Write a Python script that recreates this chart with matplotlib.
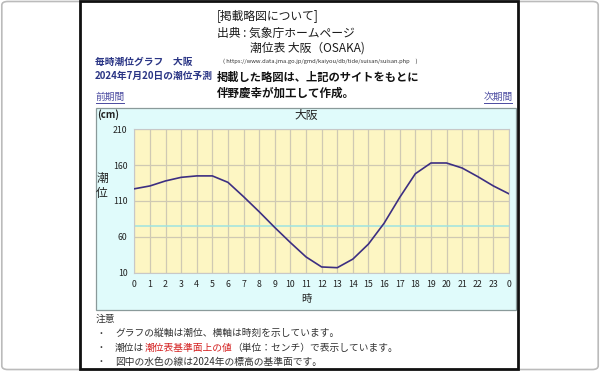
import matplotlib.pyplot as plt
from matplotlib.patches import Rectangle, FancyBboxPatch

plt.rcParams['font.family'] = ['Noto Sans CJK JP', 'DejaVu Sans']

# hourly tide level prediction, Osaka, 2024-07-20 (cm)
hours = list(range(25))
hour_labels = [str(h % 24) for h in hours]
tide_cm = [127, 131, 138, 143, 145, 145, 136, 116, 95, 73, 52, 32, 18,
           17, 29, 50, 79, 115, 148, 163, 163, 156, 144, 131, 120]
y_ticks = [10, 60, 110, 160, 210]
datum_cm = 75  # 2024 elevation datum (light blue line)

W, H = 600, 371
fig = plt.figure(figsize=(W / 100, H / 100), dpi=100)
fig.patch.set_facecolor('white')


def fx(x):
    return x / W


def fy(y):
    return 1 - y / H


def txt(x, y, s, **kw):
    kw.setdefault('va', 'center')
    kw.setdefault('ha', 'left')
    return fig.text(fx(x), fy(y), s, **kw)


# outer light border and dark frame
fig.add_artist(FancyBboxPatch((0.003, 0.004), 0.994, 0.992,
                              boxstyle='round,pad=0,rounding_size=0.01',
                              transform=fig.transFigure, fill=False,
                              ec='#bbbbbb', lw=1.2))
fig.add_artist(Rectangle((fx(79.5), fy(369)), fx(517.5 - 79.5), (368 / H),
                         transform=fig.transFigure, fill=False,
                         ec='#111111', lw=2.0, zorder=5))

# chart panel
fig.add_artist(Rectangle((fx(96), fy(310)), fx(515.5 - 96), (310 - 107.7) / H,
                         transform=fig.transFigure, fc='#e0fbfb',
                         ec='#8a9a9a', lw=0.9, zorder=-1))

# header texts
txt(217, 17, '[掲載略図について]', fontsize=8.5, color='#1a1a1a')
txt(217, 33, '出典 : 気象庁ホームページ', fontsize=8.5, color='#1a1a1a')
txt(250, 48, '潮位表 大阪（OSAKA)', fontsize=8.5, color='#1a1a1a')
txt(223, 61, '( https://www.data.jma.go.jp/gmd/kaiyou/db/tide/suisan/suisan.php　)',
    fontsize=4.2, color='#333333')
txt(95, 62, '毎時潮位グラフ　大阪', fontsize=7, color='#2a3585', fontweight='bold')
txt(95, 76, '2024年7月20日の潮位予測', fontsize=7, color='#2a3585', fontweight='bold')
txt(217, 77, '掲載した略図は、上記のサイトをもとに', fontsize=8.1, color='#111111',
    fontweight='bold')
txt(217, 93, '伴野慶幸が加工して作成。', fontsize=8.3, color='#111111',
    fontweight='bold')
txt(96, 97, '前期間', fontsize=7, color='#4a4aa0')
txt(484, 97, '次期間', fontsize=7, color='#4a4aa0')
for x0, x1 in [(96, 124), (484, 512)]:
    fig.add_artist(plt.Line2D([fx(x0), fx(x1)], [fy(103), fy(103)],
                              transform=fig.transFigure, color='#4a4aa0', lw=0.7))

# chart
ax = fig.add_axes([fx(134.3), fy(272.7), fx(509 - 134.3), (272.7 - 129.3) / H])
ax.set_zorder(2)
ax.set_facecolor('#fdf6c3')
for h in hours:
    ax.axvline(h, color='#cfc9b3', lw=0.9, zorder=1)
for v in y_ticks:
    ax.axhline(v, color='#cfc9b3', lw=0.9, zorder=1)
ax.axhline(datum_cm, color='#9fe3e0', lw=1.1, zorder=2)
ax.plot(hours, tide_cm, color='#3d2f82', lw=1.2, zorder=3)
ax.set_xlim(0, 24)
ax.set_ylim(10, 210)
ax.set_xticks(hours)
ax.set_xticklabels(hour_labels, fontsize=6.3, color='#222222')
ax.set_yticks(y_ticks)
ax.set_yticklabels([str(v) for v in y_ticks], fontsize=6.3, color='#222222')
ax.tick_params(length=0, pad=5)
for s in ax.spines.values():
    s.set_color('#c8c8c8')
    s.set_linewidth(0.8)

txt(306.7, 115, '大阪', fontsize=8.5, color='#222222', ha='center')
txt(97, 115, '(cm)', fontsize=7, color='#222222', fontweight='bold')
txt(102, 178, '潮', fontsize=8.5, color='#222222', ha='center')
txt(102, 194, '位', fontsize=8.5, color='#222222', ha='center')
txt(306.7, 299, '時', fontsize=7.5, color='#222222', ha='center')

# notes
note_color = '#333333'
txt(96, 319, '注意', fontsize=7, color=note_color)
for yy in (333, 348, 362):
    txt(101, yy, '・', fontsize=6.5, color=note_color, ha='center')
txt(115, 333, 'グラフの縦軸は潮位、横軸は時刻を示しています。', fontsize=7, color=note_color)
a = txt(115, 348, '潮位は', fontsize=7, color=note_color)
fig.canvas.draw()
r = fig.canvas.get_renderer()
bb = a.get_window_extent(r)
b = fig.text(bb.x1 / W, fy(348), '潮位表基準面上の値', fontsize=7, color='#d42020',
             va='center', ha='left')
bb2 = b.get_window_extent(r)
fig.text(bb2.x1 / W, fy(348), '（単位：センチ）で表示しています。', fontsize=7,
         color=note_color, va='center', ha='left')
txt(115, 362, '図中の水色の線は2024年の標高の基準面です。', fontsize=7, color=note_color)

fig.savefig('out.png', dpi=100)
